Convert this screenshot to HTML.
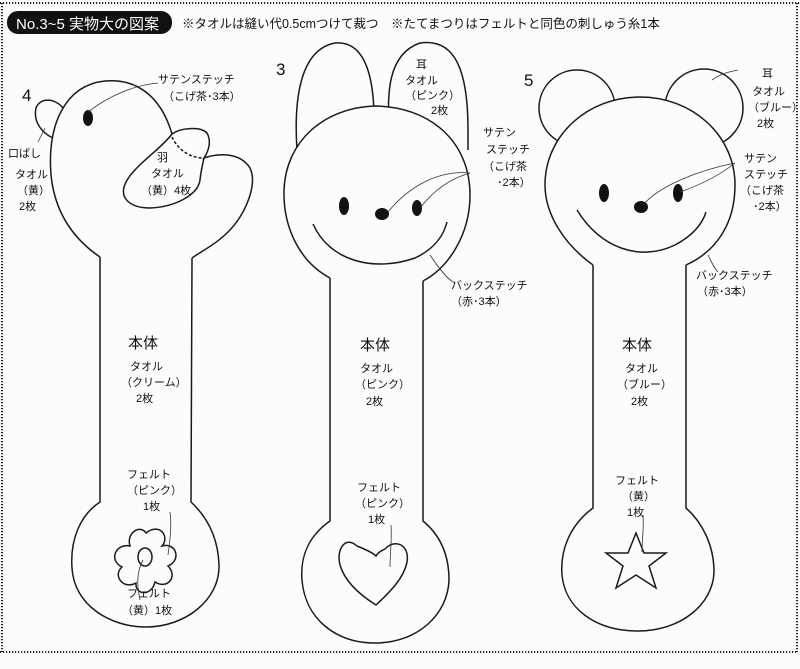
<!DOCTYPE html>
<html><head><meta charset="utf-8"><style>
html,body{margin:0;padding:0;background:#fff;}
svg{display:block;}
text{font-family:"Liberation Sans","Noto Sans CJK JP",sans-serif;fill:#111;}
.s{font-size:11px;}
.m{font-size:15px;}
.t{font-size:12.5px;}
</style></head><body>
<svg width="800" height="669" viewBox="0 0 800 669" xmlns="http://www.w3.org/2000/svg">
<rect width="800" height="669" fill="#fcfcfc"/>
<g fill="none" stroke="#222" stroke-width="2" stroke-dasharray="1.2 1.8">
<line x1="0" y1="3" x2="800" y2="3"/>
<line x1="2" y1="3" x2="2" y2="652"/>
<line x1="797" y1="3" x2="797" y2="652"/>
<line x1="0" y1="652" x2="797" y2="652"/>
</g>
<rect x="7" y="11" width="165" height="23" rx="11" fill="#111"/>
<text x="16" y="29" font-size="15" style="fill:#fff">No.3~5 実物大の図案</text>
<text x="182" y="28" class="t">※タオルは縫い代0.5cmつけて裁つ　※たてまつりはフェルトと同色の刺しゅう糸1本</text>

<g fill="none" stroke="#1a1a1a" stroke-width="1.5">
<!-- DUCK -->
<path d="M63,108 C55,98 40,97 36,108 C33,122 42,133 53,138"/>
<path d="M100,257 C75,240 55,215 51,175 C47,125 65,85 105,81 C140,78 162,100 172,134 C180,128 200,126 207,133 C212,142 208,152 204,158 C218,153 240,152 250,168 C258,185 245,215 228,232 C215,245 200,252 192,258"/>
<path d="M100,257 L100,502 C80,515 70,540 72,568 C74,605 110,627 146,627 C185,627 220,600 219,565 C218,535 205,515 191,502 L192,258"/>
<path d="M172,134 C160,150 135,165 126,182 C118,198 130,208 150,208 C175,207 198,195 200,180 C201,170 203,163 204,158"/>
<path d="M172,137 C178,150 190,158 204,158" stroke-dasharray="3 2"/>
<!-- flower -->
<path d="M146,533 C160,522 170,537 162,546 C176,542 182,560 168,566 C178,576 168,590 155,582 C152,596 135,596 136,583 C124,590 112,576 122,567 C108,560 116,543 130,546 C126,533 140,524 146,533 Z"/>
<ellipse cx="145" cy="557" rx="7" ry="9"/>
<!-- RABBIT -->
<path d="M297,150 C294,105 298,50 335,43 C370,40 375,90 374,130"/>
<path d="M389,130 C388,100 385,55 420,43 C455,38 468,70 468,130 L468,150"/>
<path d="M330,278 C300,262 283,228 284,190 C286,140 325,108 374,106 C428,106 470,140 470,195 C470,235 448,268 423,281" fill="#fcfcfc"/>
<path d="M330,278 L330,521 C310,535 300,555 302,580 C305,618 335,643 375,643 C418,643 448,614 449,580 C449,555 440,535 423,521 L423,281"/>
<path d="M313,224 C330,262 375,272 415,258 C432,250 443,238 447,222"/>
<path d="M357,546 C345,535 336,550 340,565 C345,582 360,595 376,605 C390,592 404,578 407,562 C410,545 395,538 385,549 C383,550 378,552 376,556 C372,552 362,548 357,546 Z"/>
<!-- BEAR -->
<circle cx="577" cy="108" r="38"/>
<circle cx="704" cy="108" r="39"/>
<path d="M593,265 C565,245 545,215 545,185 C545,135 588,97 640,97 C692,97 735,135 735,185 C735,225 715,252 686,265" fill="#fcfcfc"/>
<path d="M593,265 L593,508 C570,525 560,550 562,575 C565,608 595,631 638,631 C680,631 713,605 714,572 C714,545 702,522 686,508 L686,265"/>
<path d="M577,210 C600,248 640,262 675,245 C692,236 702,225 706,212"/>
<path d="M636,533 L644,553 L666,553 L649,566 L656,588 L636,575 L616,588 L623,566 L606,553 L628,553 Z"/>
</g>
<g fill="#111">
<ellipse cx="88" cy="118" rx="5" ry="8"/>
<ellipse cx="344" cy="206" rx="5" ry="9"/>
<ellipse cx="417" cy="208" rx="5" ry="8"/>
<ellipse cx="382" cy="214" rx="7" ry="6"/>
<ellipse cx="604" cy="193" rx="5" ry="9"/>
<ellipse cx="678" cy="193" rx="5" ry="9"/>
<ellipse cx="641" cy="207" rx="7" ry="6"/>
</g>
<g fill="none" stroke="#333" stroke-width="0.8">
<path d="M88,112 C110,95 135,85 158,83"/>
<path d="M45,128 L38,142"/>
<path d="M388,212 C410,185 440,170 470,173"/>
<path d="M420,208 C430,195 445,180 470,173"/>
<path d="M430,255 C440,270 448,280 455,283"/>
<path d="M643,205 C660,185 700,170 735,163"/>
<path d="M680,192 C700,185 720,175 735,163"/>
<path d="M708,255 C712,263 714,268 718,272"/>
<path d="M712,80 C720,74 728,72 738,70"/>
<path d="M170,512 C172,525 170,540 168,555"/>
<path d="M143,560 C135,575 138,590 140,600"/>
<path d="M391,525 C392,540 390,555 390,567"/>
<path d="M643,515 C644,530 642,540 642,552"/>
</g>
<g>
<text x="22" y="101" font-size="17">4</text>
<text x="276" y="75" font-size="17">3</text>
<text x="524" y="86" font-size="17">5</text>
<text x="158" y="83" class="s">サテンステッチ</text>
<text x="163" y="100" class="s">（こげ茶･3本）</text>
<text x="8" y="157" class="s">口ばし</text>
<text x="15" y="178" class="s">タオル</text>
<text x="17" y="194" class="s">（黄）</text>
<text x="19" y="210" class="s">2枚</text>
<text x="157" y="161" class="s">羽</text>
<text x="151" y="177" class="s">タオル</text>
<text x="141" y="194" class="s">（黄）4枚</text>
<text x="416" y="68" class="s">耳</text>
<text x="405" y="84" class="s">タオル</text>
<text x="405" y="99" class="s">（ピンク）</text>
<text x="431" y="114" class="s">2枚</text>
<text x="483" y="136" class="s">サテン</text>
<text x="486" y="153" class="s">ステッチ</text>
<text x="483" y="170" class="s">（こげ茶</text>
<text x="497" y="186" class="s">･2本）</text>
<text x="451" y="289" class="s">バックステッチ</text>
<text x="451" y="305" class="s">（赤･3本）</text>
<text x="762" y="77" class="s">耳</text>
<text x="752" y="95" class="s">タオル</text>
<text x="748" y="111" class="s">（ブルー）</text>
<text x="757" y="127" class="s">2枚</text>
<text x="744" y="162" class="s">サテン</text>
<text x="744" y="178" class="s">ステッチ</text>
<text x="740" y="194" class="s">（こげ茶</text>
<text x="753" y="210" class="s">･2本）</text>
<text x="696" y="279" class="s">バックステッチ</text>
<text x="697" y="295" class="s">（赤･3本）</text>
<text x="128" y="348" class="m">本体</text>
<text x="130" y="370" class="s">タオル</text>
<text x="121" y="386" class="s">（クリーム）</text>
<text x="136" y="402" class="s">2枚</text>
<text x="360" y="350" class="m">本体</text>
<text x="360" y="372" class="s">タオル</text>
<text x="355" y="388" class="s">（ピンク）</text>
<text x="366" y="405" class="s">2枚</text>
<text x="622" y="350" class="m">本体</text>
<text x="625" y="372" class="s">タオル</text>
<text x="617" y="388" class="s">（ブルー）</text>
<text x="631" y="405" class="s">2枚</text>
<text x="127" y="478" class="s">フェルト</text>
<text x="127" y="494" class="s">（ピンク）</text>
<text x="143" y="510" class="s">1枚</text>
<text x="127" y="597" class="s">フェルト</text>
<text x="122" y="614" class="s">（黄）1枚</text>
<text x="357" y="491" class="s">フェルト</text>
<text x="355" y="507" class="s">（ピンク）</text>
<text x="368" y="523" class="s">1枚</text>
<text x="615" y="484" class="s">フェルト</text>
<text x="622" y="500" class="s">（黄）</text>
<text x="627" y="516" class="s">1枚</text>
</g>
</svg>
</body></html>
